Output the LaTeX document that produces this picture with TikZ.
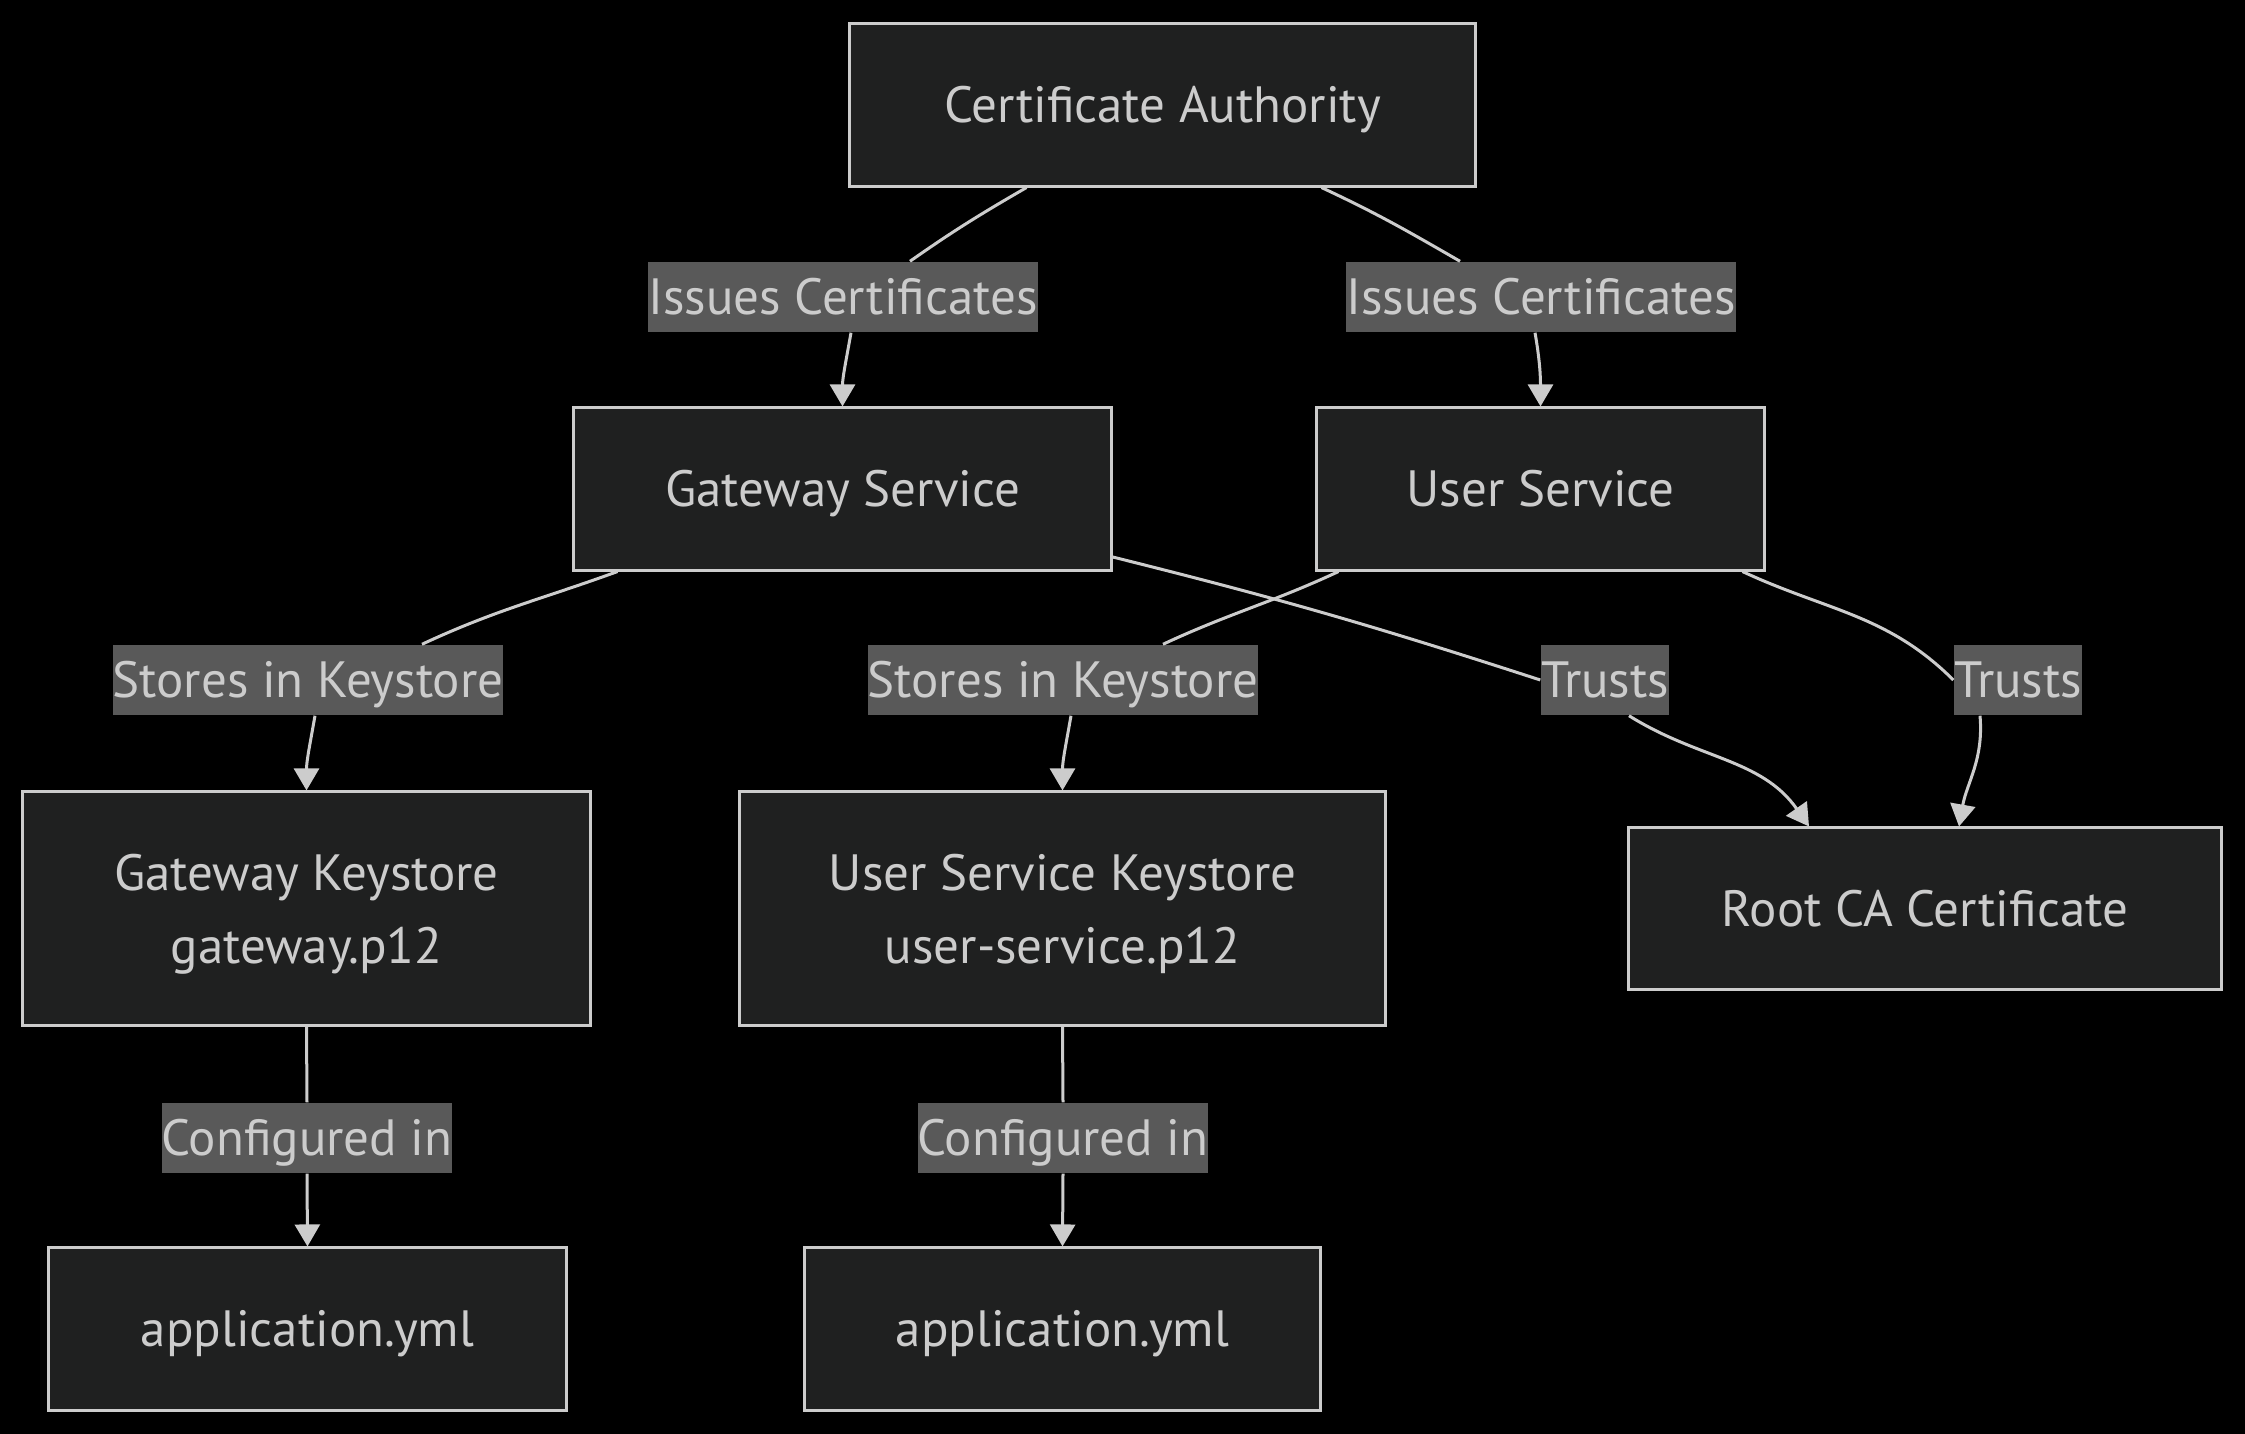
\documentclass[tikz,border=0pt]{standalone}
\usepackage{fontspec}
\setmainfont{PT Sans}
\usetikzlibrary{arrows.meta,calc}
\definecolor{NodeFill}{HTML}{1F2020}
\definecolor{NodeLine}{HTML}{CCCCCC}
\definecolor{LabelFill}{HTML}{595959}
\definecolor{InkGray}{HTML}{CCCCCC}
\tikzset{
  box/.style={draw=NodeLine, fill=NodeFill, line width=0.03cm, text=InkGray, align=center,
    inner sep=0pt, text depth=0pt, minimum height=1.62cm, font=\fontsize{14.5}{20.7}\selectfont},
  onebox/.style={box, text height=10pt},
  lbl/.style={fill=LabelFill, text=InkGray, inner sep=0pt, minimum height=0.70cm,
    text height=10pt, text depth=0pt, font=\fontsize{14.5}{17}\selectfont},
  link/.style={draw=NodeLine, line width=0.03cm},
  tolink/.style={link, -{Triangle[length=0.22cm,width=0.25cm]}}
}

\begin{document}
\begin{tikzpicture}[x=0.01cm,y=-0.01cm]
  \fill[black] (0,0) rectangle (2245,1434);
  % boxes
  \node[onebox, minimum width=6.25cm] (ca) at (1162.5,105) {Certificate Authority};
  \node[onebox, minimum width=5.37cm] (gw) at (842.5,489) {Gateway Service};
  \node[onebox, minimum width=4.47cm] (us) at (1540.5,489) {User Service};
  \node[box, minimum width=5.67cm, minimum height=2.33cm] (gwks) at (306.5,908.5) {Gateway Keystore\\gateway.p12};
  \node[box, minimum width=6.45cm, minimum height=2.33cm] (usks) at (1062.5,908.5) {User Service Keystore\\user-service.p12};
  \node[onebox, minimum width=5.92cm, minimum height=1.61cm] (root) at (1925,908.5) {Root CA Certificate};
  \node[onebox, minimum width=5.17cm] (gwapp) at (307.5,1329) {application.yml};
  \node[onebox, minimum width=5.15cm] (usapp) at (1062.5,1329) {application.yml};
  % edge labels
  \node[lbl] (issgw) at (843,297) {Issues Certificates};
  \node[lbl] (issus) at (1541,297) {Issues Certificates};
  \node[lbl] (stogw) at (308,680) {Stores in Keystore};
  \node[lbl] (stous) at (1063,680) {Stores in Keystore};
  \node[lbl] (trgw) at (1605,680) {Trusts};
  \node[lbl] (trus) at (2018,680) {Trusts};
  \node[lbl] (cfggw) at (307,1138) {Configured in};
  \node[lbl] (cfgus) at (1063,1138) {Configured in};
  % connectors
  \draw[link] ($(ca.south)+(-136,0)$) to[out=210,in=35] ($(issgw.north)+(67,0)$);
  \draw[tolink] ($(issgw.south)+(8,0)$) to[out=-100,in=90] (gw.north);
  \draw[link] ($(ca.south)+(159,0)$) to[out=-25,in=150] ($(issus.north)+(-81,0)$);
  \draw[tolink] ($(issus.south)+(-6,0)$) to[out=-80,in=90] (us.north);
  \draw[link] ($(gw.south)+(-225,0)$) to[out=200,in=25] ($(stogw.north)+(114,0)$);
  \draw[tolink] ($(stogw.south)+(7,0)$) to[out=-100,in=90] (gwks.north);
  \draw[link] ($(us.south)+(-202,0)$) to[out=205,in=25] ($(stous.north)+(100,0)$);
  \draw[tolink] ($(stous.south)+(8,0)$) to[out=-100,in=90] (usks.north);
  \draw[link] ($(gw.east)+(0,68)$) to[out=-14,in=162] (trgw.west);
  \draw[tolink] ($(trgw.south)+(24,0)$) to[out=-32,in=125] ($(root.north)+(-116,0)$);
  \draw[link] ($(us.south)+(202,0)$) to[out=-25,in=135] (trus.west);
  \draw[tolink] ($(trus.south)+(-38,0)$) to[out=-85,in=80] ($(root.north)+(34,0)$);
  \draw[link] (gwks.south) -- (cfggw.north);
  \draw[tolink] (cfggw.south) -- (gwapp.north);
  \draw[link] (usks.south) -- (cfgus.north);
  \draw[tolink] (cfgus.south) -- (usapp.north);
\end{tikzpicture}
\end{document}
